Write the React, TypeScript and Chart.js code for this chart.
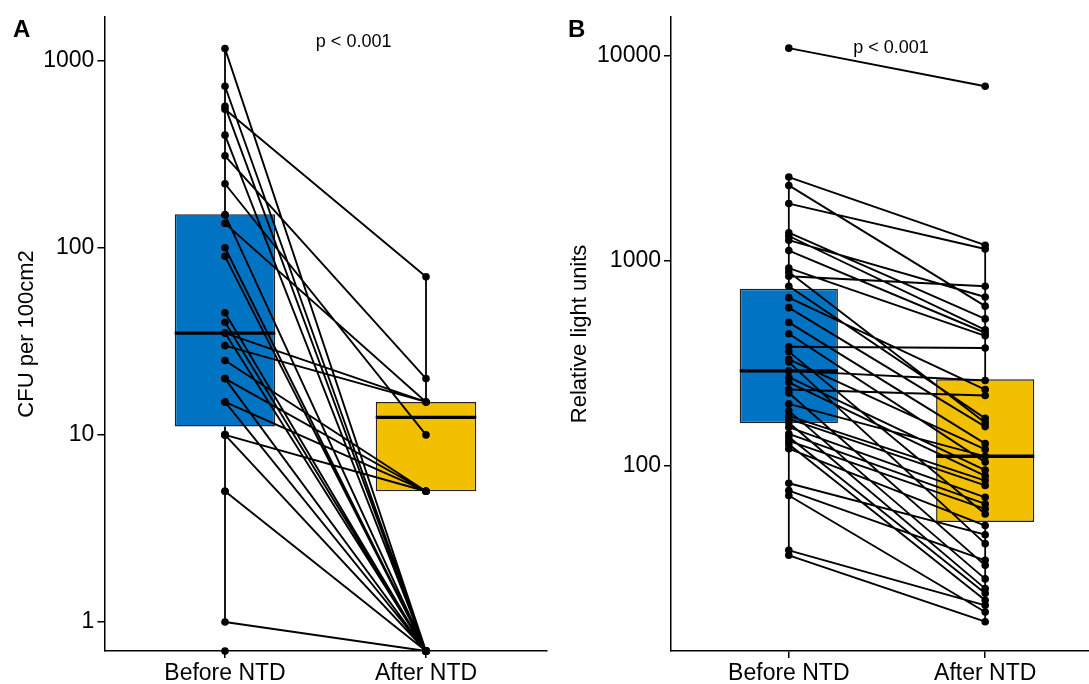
import React, { useEffect, useRef } from "react";
import { Chart, registerables } from "chart.js";

Chart.register(...registerables);

// ---------- data ----------
const CATEGORIES = ["Before NTD", "After NTD"];
const P_LABEL = "p < 0.001";

// Panel A: CFU per 100cm2 (0 = below detection, drawn at the panel bottom)
const BEFORE_A = [1160, 730, 570, 550, 400, 310, 220, 150, 150, 135, 100, 90, 45, 40, 35, 35, 30, 25, 20, 20, 15, 15, 10, 10, 10, 10, 5, 5, 1, 0];
const AFTER_A = [0, 0, 0, 70, 0, 20, 10, 0, 0, 15, 0, 0, 0, 0, 15, 0, 15, 5, 5, 0, 5, 0, 5, 0, 0, 0, 0, 0, 0, 0];
const Q1_A = [11.1, 5];
const MEDIAN_A = [35, 12.4];
const Q3_A = [151, 15];
const WHISKER_LOW_A = [1, 5];
const WHISKER_HIGH_A = [1160, 70];
const TICKS_A = [1, 10, 100, 1000];
const Y_MIN_A = 0.7;
const Y_MAX_A = 1716;

// Panel B: Relative light units
const BEFORE_B = [10900, 2560, 2330, 1900, 1370, 1320, 1260, 1120, 920, 880, 840, 750, 660, 590, 500, 440, 380, 360, 330, 320, 290, 270, 255, 235, 226, 200, 185, 175, 169, 162, 154, 143, 138, 132, 127, 121, 82, 75.5, 71.5, 38.6, 36.5];
const AFTER_B = [7100, 1190, 600, 1140, 520, 460, 665, 445, 430, 162, 750, 170, 235, 155, 128, 104, 375, 58, 120, 41.6, 260, 95, 89, 220, 32.6, 111, 28, 84.5, 80, 25.1, 70, 65, 23.8, 61.5, 22, 51, 46, 34.5, 19.3, 20.8, 17.3];
const Q1_B = [161, 53];
const MEDIAN_B = [290, 111];
const Q3_B = [729, 264];
const WHISKER_LOW_B = [36.5, 17.3];
const WHISKER_HIGH_B = [2560, 1190];
const TICKS_B = [100, 1000, 10000];
const Y_MIN_B = 12.45;
const Y_MAX_B = 15500;

// ---------- style ----------
const FONT = '"Liberation Sans", Arial, Helvetica, sans-serif';
const BLUE = "#0073C2";
const YELLOW = "#F3C000";
const BOX_WIDTH = 0.5;

const annotPlugin = {
  id: "annot",
  afterDraw(chart: any, _args: any, opts: any) {
    const { ctx } = chart;
    const x = chart.scales.x;
    const y = chart.scales.y;
    ctx.save();
    ctx.fillStyle = "#000";
    ctx.font = `bold 24px ${FONT}`;
    ctx.textAlign = "left";
    ctx.textBaseline = "alphabetic";
    ctx.fillText(opts.letter, opts.letterX, opts.letterY);
    ctx.font = `18px ${FONT}`;
    ctx.textAlign = "center";
    ctx.textBaseline = "middle";
    ctx.fillText(P_LABEL, x.getPixelForValue(opts.pX), y.getPixelForValue(opts.pY));
    ctx.restore();
  },
};

type PanelDef = {
  before: number[];
  after: number[];
  q1: number[];
  med: number[];
  q3: number[];
  wl: number[];
  wh: number[];
  ticks: number[];
  yMin: number;
  yMax: number;
  title: string;
  letter: string;
  pX: number;
  pY: number;
  axisWidth: number;
  titlePad: number;
  rightPad: number;
};

function buildConfig(p: PanelDef): any {
  const z = (v: number) => (v === 0 ? p.yMin : v);
  const gap = { x: 1.5, y: null };
  const segs: any[] = [];
  p.before.forEach((b, i) => {
    segs.push({ x: 1, y: z(b) }, { x: 2, y: z(p.after[i]) }, gap);
  });
  const whisk: any[] = [];
  const meds: any[] = [];
  p.q1.forEach((q, i) => {
    const cx = i + 1;
    whisk.push({ x: cx, y: p.wl[i] }, { x: cx, y: q }, gap, { x: cx, y: p.q3[i] }, { x: cx, y: p.wh[i] }, gap);
    meds.push({ x: cx - BOX_WIDTH / 2, y: p.med[i] }, { x: cx + BOX_WIDTH / 2, y: p.med[i] }, gap);
  });
  const border = { display: true, color: "#000", width: 1.5 };
  const grid = {
    display: true,
    offset: false,
    drawOnChartArea: false,
    drawTicks: true,
    tickLength: 7,
    color: "#000",
    lineWidth: 1.5,
  };
  return {
    type: "bar",
    data: {
      datasets: [
        {
          type: "line",
          data: p.before.map((b) => ({ x: 1, y: z(b) })).concat(p.after.map((a) => ({ x: 2, y: z(a) }))),
          showLine: false,
          pointRadius: 3.8,
          pointHoverRadius: 3.8,
          pointBackgroundColor: "#000",
          pointBorderWidth: 0,
          clip: false,
          order: 1,
        },
        {
          type: "line",
          data: segs,
          borderColor: "#000",
          borderWidth: 1.9,
          pointRadius: 0,
          spanGaps: false,
          tension: 0,
          order: 2,
        },
        {
          type: "line",
          data: meds,
          borderColor: "#000",
          borderWidth: 3.4,
          pointRadius: 0,
          spanGaps: false,
          order: 3,
        },
        {
          type: "line",
          data: whisk,
          borderColor: "#000",
          borderWidth: 1.8,
          pointRadius: 0,
          spanGaps: false,
          order: 4,
        },
        {
          type: "bar",
          data: p.q1.map((q, i) => ({ x: i + 1, y: [q, p.q3[i]] })),
          backgroundColor: [BLUE, YELLOW],
          borderColor: "#222",
          borderWidth: 1.5,
          borderSkipped: false,
          categoryPercentage: 1,
          barPercentage: BOX_WIDTH,
          order: 5,
        },
      ],
    },
    options: {
      responsive: false,
      animation: false,
      events: [],
      layout: { padding: { left: 0, top: 15, right: p.rightPad, bottom: 0 } },
      plugins: {
        legend: { display: false },
        tooltip: { enabled: false },
        annot: { letter: p.letter, letterX: 13, letterY: 37, pX: p.pX, pY: p.pY },
      },
      scales: {
        x: {
          type: "linear",
          min: 0.4,
          max: 2.6,
          offset: false,
          bounds: "data",
          afterBuildTicks: (s: any) => {
            s.ticks = CATEGORIES.map((_, i) => ({ value: i + 1 }));
          },
          afterFit: (s: any) => {
            s.height = 33;
          },
          ticks: {
            autoSkip: false,
            maxRotation: 0,
            color: "#000",
            font: { family: FONT, size: 23 },
            padding: 2,
            callback: (v: number) => CATEGORIES[Math.round(v) - 1],
          },
          grid,
          border,
        },
        y: {
          type: "logarithmic",
          min: p.yMin,
          max: p.yMax,
          bounds: "data",
          afterBuildTicks: (s: any) => {
            s.ticks = p.ticks.map((v) => ({ value: v }));
          },
          afterFit: (s: any) => {
            s.width = p.axisWidth;
          },
          ticks: {
            autoSkip: false,
            color: "#000",
            font: { family: FONT, size: 23 },
            padding: 3,
            callback: (v: number) => String(v),
          },
          title: {
            display: true,
            text: p.title,
            color: "#000",
            font: { family: FONT, size: 22 },
            padding: { top: p.titlePad, bottom: 0 },
          },
          grid,
          border,
        },
      },
    },
    plugins: [annotPlugin],
  };
}

const PANEL_A: PanelDef = {
  before: BEFORE_A,
  after: AFTER_A,
  q1: Q1_A,
  med: MEDIAN_A,
  q3: Q3_A,
  wl: WHISKER_LOW_A,
  wh: WHISKER_HIGH_A,
  ticks: TICKS_A,
  yMin: Y_MIN_A,
  yMax: Y_MAX_A,
  title: "CFU per 100cm2",
  letter: "A",
  pX: 1.64,
  pY: 1260,
  axisWidth: 104.4,
  titlePad: 14,
  rightPad: 13.4,
};

const PANEL_B: PanelDef = {
  before: BEFORE_B,
  after: AFTER_B,
  q1: Q1_B,
  med: MEDIAN_B,
  q3: Q3_B,
  wl: WHISKER_LOW_B,
  wh: WHISKER_HIGH_B,
  ticks: TICKS_B,
  yMin: Y_MIN_B,
  yMax: Y_MAX_B,
  title: "Relative light units",
  letter: "B",
  pX: 1.52,
  pY: 10900,
  axisWidth: 116,
  titlePad: 12,
  rightPad: 12,
};

function Panel({ def, left, width }: { def: PanelDef; left: number; width: number }) {
  const ref = useRef<HTMLCanvasElement | null>(null);
  useEffect(() => {
    if (!ref.current) return;
    const chart = new Chart(ref.current, buildConfig(def));
    return () => chart.destroy();
  }, [def]);
  return (
    <canvas
      ref={ref}
      width={width}
      height={684}
      style={{ position: "absolute", left, top: 0, width, height: 684, display: "block" }}
    />
  );
}

export default function App() {
  return (
    <div
      style={{
        position: "absolute",
        left: 0,
        top: 0,
        width: 1089,
        height: 684,
        overflow: "hidden",
        background: "#fff",
      }}
    >
      <Panel def={PANEL_A} left={0} width={560} />
      <Panel def={PANEL_B} left={555} width={560} />
    </div>
  );
}
